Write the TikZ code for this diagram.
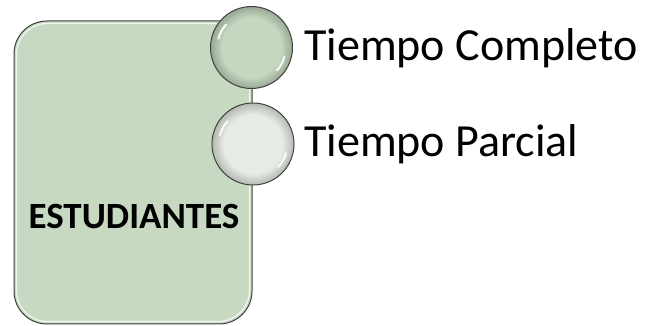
\documentclass[tikz,border=0pt]{standalone}
\usepackage{fontspec}
\setmainfont{Carlito}
\definecolor{boxgreen}{HTML}{C7D9C1}
\definecolor{darkgreen}{HTML}{C5D8BF}
\definecolor{palegreen}{HTML}{E6ECE4}
\colorlet{darkgreenrim}{darkgreen!78!black}
\colorlet{palegreenrim}{palegreen!78!black}
\pgfdeclareradialshading{rimgreen}{\pgfpoint{0bp}{0bp}}{color(0bp)=(darkgreen); color(18bp)=(darkgreen); color(25bp)=(darkgreenrim); color(50bp)=(darkgreenrim)}
\pgfdeclareradialshading{rimpale}{\pgfpoint{0bp}{0bp}}{color(0bp)=(palegreen); color(18bp)=(palegreen); color(25bp)=(palegreenrim); color(50bp)=(palegreenrim)}
\begin{document}
\begin{tikzpicture}[x=1pt,y=1pt,
  frame/.style={draw=black!75,line width=1pt},
  bubble/.style={circle,minimum size=82pt,inner sep=0pt,draw=black!75,line width=1pt},
  label/.style={anchor=west,inner sep=0pt,font=\fontsize{46}{52}\selectfont},
  gloss/.style={white,line width=2pt,line cap=round,opacity=0.9}]
\useasboundingbox (0,0) rectangle (647,326);
% main box
\node[frame,fill=boxgreen,rounded corners=33pt,minimum width=238pt,minimum height=303pt,inner sep=0pt] (box) at (133,153.5) {};
\draw[white,line width=1.2pt,opacity=0.8,rounded corners=31pt] (16.5,4.5) rectangle (249.5,302.5);
\node[font=\bfseries\fontsize{37}{42}\selectfont,inner sep=0pt] (title) at (134,109) {ESTUDIANTES};
% circles
\node[bubble,shading=rimgreen] (c1) at (251.5,278.5) {};
\node[bubble,shading=rimpale] (c2) at (253,182) {};
\foreach \c in {c1,c2}{
  \draw[gloss] ([shift={(-33,9)}]\c.center) arc[start angle=165,end angle=138,radius=34];
  \draw[gloss] ([shift={(33,-9)}]\c.center) arc[start angle=-15,end angle=-42,radius=34];
}
\node[label] (t1) at (304,278) {Tiempo Completo};
\node[label] (t2) at (304,182) {Tiempo Parcial};
\end{tikzpicture}
\end{document}
